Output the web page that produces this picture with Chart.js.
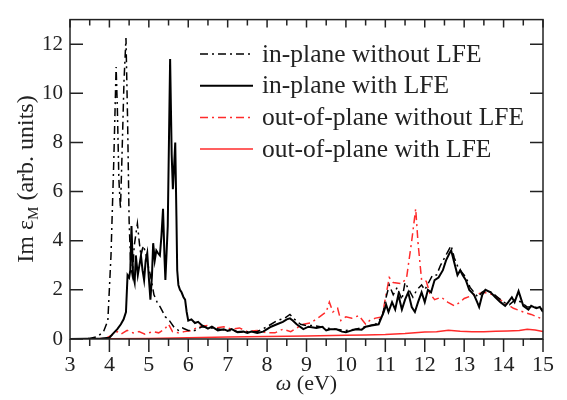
<!DOCTYPE html>
<html>
<head>
<meta charset="utf-8">
<script src="https://cdn.jsdelivr.net/npm/chart.js@4"></script>
<style>
  body { margin: 0; background: #fff; }
  #probe { font-family: "Liberation Serif", "Times New Roman", serif; position: absolute; left: -999px; }
</style>
</head>
<body>
<span id="probe">Im ε ω (eV) 0123456789 <i>ω</i></span>
<canvas id="myChart" width="567" height="400"></canvas>
<script>
// Energi (eV) og Im eps_M for hver kurve, lest av figuren
const inPlaneNoLfeE = [3.0, 3.5, 3.7, 3.85, 3.96, 4.04, 4.11, 4.17, 4.2, 4.24, 4.28, 4.32, 4.37, 4.42, 4.46, 4.5, 4.54, 4.58, 4.63, 4.71, 4.76, 4.8, 4.86, 4.92, 4.98, 5.04, 5.13, 5.21, 5.29, 5.42, 5.5, 5.63, 5.75, 5.85, 6.0, 6.17, 6.35, 6.58, 6.8, 7.0, 7.25, 7.5, 7.75, 8.0, 8.25, 8.45, 8.58, 8.7, 8.85, 9.0, 9.17, 9.35, 9.5, 9.75, 10.0, 10.25, 10.5, 10.75, 10.92, 11.02, 11.1, 11.2, 11.3, 11.42, 11.5, 11.6, 11.7, 11.8, 11.92, 12.0, 12.1, 12.2, 12.3, 12.4, 12.5, 12.6, 12.67, 12.75, 12.85, 12.95, 13.05, 13.15, 13.25, 13.35, 13.45, 13.55, 13.7, 13.85, 14.0, 14.15, 14.3, 14.45, 14.6, 14.8, 15.0];
const inPlaneNoLfe = [0, 0.02, 0.1, 0.3, 0.75, 3.4, 7.2, 11.07, 9.5, 6.5, 5.3, 7.5, 10.5, 12.25, 9.0, 4.8, 3.0, 2.6, 3.8, 4.7, 3.9, 3.4, 3.8, 3.5, 3.0, 2.6, 1.8, 1.5, 1.3, 0.9, 0.8, 0.5, 0.35, 0.45, 0.35, 0.35, 0.5, 0.45, 0.4, 0.35, 0.3, 0.3, 0.3, 0.5, 0.75, 0.85, 1.0, 0.8, 0.6, 0.55, 0.55, 0.5, 0.45, 0.4, 0.35, 0.4, 0.5, 0.6, 0.9, 1.7, 2.2, 1.8, 2.1, 1.6, 2.3, 2.0, 1.7, 2.0, 2.2, 2.0, 2.3, 2.6, 2.6, 3.0, 3.3, 3.6, 3.8, 3.3, 2.9, 2.7, 2.5, 2.1, 1.9, 1.7, 1.9, 2.0, 1.9, 1.7, 1.5, 1.4, 1.6, 1.5, 1.3, 1.3, 1.2];

const inPlaneLfeE = [3.0, 3.8, 4.0, 4.08, 4.2, 4.29, 4.36, 4.42, 4.46, 4.5, 4.53, 4.56, 4.6, 4.64, 4.67, 4.72, 4.76, 4.8, 4.84, 4.88, 4.92, 4.96, 5.0, 5.04, 5.08, 5.11, 5.15, 5.19, 5.23, 5.28, 5.32, 5.36, 5.4, 5.42, 5.45, 5.48, 5.51, 5.54, 5.58, 5.61, 5.64, 5.67, 5.7, 5.72, 5.75, 5.79, 5.83, 5.88, 5.92, 5.96, 6.0, 6.08, 6.17, 6.25, 6.35, 6.5, 6.6, 6.75, 6.9, 7.0, 7.1, 7.25, 7.4, 7.5, 7.6, 7.75, 7.9, 8.0, 8.1, 8.25, 8.4, 8.5, 8.58, 8.65, 8.75, 8.92, 9.05, 9.25, 9.4, 9.5, 9.6, 9.75, 9.9, 10.0, 10.15, 10.25, 10.4, 10.5, 10.65, 10.83, 10.96, 11.02, 11.08, 11.17, 11.25, 11.33, 11.42, 11.5, 11.58, 11.67, 11.75, 11.83, 11.92, 12.0, 12.08, 12.16, 12.25, 12.35, 12.46, 12.54, 12.63, 12.67, 12.75, 12.83, 12.9, 12.96, 13.04, 13.13, 13.25, 13.33, 13.38, 13.46, 13.54, 13.67, 13.79, 13.92, 14.04, 14.12, 14.21, 14.28, 14.38, 14.5, 14.63, 14.7, 14.83, 14.92, 15.0];
const inPlaneLfe = [0, 0.02, 0.05, 0.2, 0.4, 0.6, 0.8, 1.1, 2.6, 2.5, 2.8, 4.6, 2.6, 2.3, 3.4, 2.6, 3.0, 3.4, 2.8, 2.4, 3.2, 3.5, 2.5, 1.6, 2.6, 3.9, 3.2, 3.6, 3.5, 3.4, 4.2, 5.3, 3.2, 2.4, 3.5, 4.6, 8.0, 11.4, 7.5, 6.1, 7.0, 8.0, 5.0, 2.8, 2.2, 2.0, 1.9, 1.7, 1.6, 1.1, 0.75, 0.8, 0.65, 0.7, 0.55, 0.42, 0.5, 0.35, 0.4, 0.33, 0.4, 0.28, 0.3, 0.25, 0.3, 0.25, 0.3, 0.4, 0.5, 0.6, 0.7, 0.8, 0.84, 0.75, 0.6, 0.4, 0.5, 0.45, 0.5, 0.35, 0.4, 0.4, 0.3, 0.28, 0.35, 0.4, 0.38, 0.5, 0.55, 0.6, 1.1, 1.4, 1.1, 1.5, 1.2, 1.8, 1.2, 1.6, 1.9, 1.3, 1.1, 1.5, 1.9, 1.5, 2.0, 1.9, 2.4, 2.5, 2.8, 3.2, 3.5, 3.6, 3.1, 2.6, 2.8, 2.6, 2.4, 2.0, 1.8, 1.5, 1.3, 1.8, 2.0, 1.9, 1.7, 1.5, 1.35, 1.5, 1.7, 1.5, 1.95, 1.35, 1.2, 1.35, 1.25, 1.3, 1.1];

const outPlaneNoLfeE = [3.0, 3.9, 4.05, 4.2, 4.3, 4.45, 4.6, 4.75, 4.9, 5.1, 5.25, 5.4, 5.5, 5.6, 5.75, 5.9, 6.1, 6.25, 6.5, 6.7, 6.9, 7.1, 7.3, 7.5, 7.75, 8.0, 8.2, 8.4, 8.6, 8.75, 8.92, 9.1, 9.33, 9.5, 9.58, 9.67, 9.79, 9.87, 10.0, 10.15, 10.33, 10.5, 10.6, 10.75, 10.92, 11.0, 11.1, 11.2, 11.42, 11.54, 11.67, 11.77, 11.83, 11.92, 12.04, 12.13, 12.25, 12.42, 12.58, 12.75, 12.9, 13.0, 13.25, 13.5, 13.75, 14.0, 14.25, 14.5, 14.7, 14.85, 15.0];
const outPlaneNoLfe = [0, 0.02, 0.15, 0.3, 0.2, 0.35, 0.25, 0.3, 0.2, 0.3, 0.25, 0.4, 0.6, 0.3, 0.25, 0.3, 0.35, 0.5, 0.55, 0.45, 0.5, 0.4, 0.45, 0.3, 0.35, 0.25, 0.25, 0.4, 0.3, 0.45, 0.6, 0.65, 0.9, 1.1, 1.5, 1.1, 1.25, 0.75, 0.9, 0.85, 0.95, 0.6, 0.75, 0.85, 0.9, 1.65, 2.5, 2.3, 2.25, 2.5, 4.0, 5.3, 3.9, 2.4, 2.35, 1.85, 1.6, 1.7, 1.5, 1.35, 1.5, 1.65, 1.8, 1.9, 1.8, 1.5, 1.25, 1.1, 1.0, 0.9, 0.8];

const outPlaneLfeE = [3.0, 5.0, 6.0, 7.0, 8.0, 9.0, 10.0, 10.5, 11.0, 11.5, 12.0, 12.3, 12.6, 12.9, 13.2, 13.5, 13.8, 14.1, 14.4, 14.6, 14.8, 15.0];
const outPlaneLfe = [0, 0.02, 0.05, 0.08, 0.1, 0.12, 0.15, 0.16, 0.18, 0.22, 0.28, 0.3, 0.36, 0.32, 0.3, 0.3, 0.32, 0.33, 0.35, 0.4, 0.37, 0.3];

const seriesLabels = ["in-plane without LFE", "in-plane with LFE", "out-of-plane without LFE", "out-of-plane with LFE"];

const black = "#000000";
const red = "#ff2b2b";
const dashDot = [8, 4, 2, 4];
const serif = "'Liberation Serif', 'Times New Roman', 'DejaVu Serif', serif";

function toPoints(xs, ys) {
  return xs.map((x, i) => ({ x: x, y: ys[i] }));
}

// Tegner ramme, innoverpekende streker, legende og aksetitler
const framePlugin = {
  id: "frame",
  afterDatasetsDraw(chart) {
    const ctx = chart.ctx;
    const a = chart.chartArea;
    const xs = chart.scales.x;
    const ys = chart.scales.y;
    ctx.save();
    ctx.strokeStyle = "#222";
    ctx.lineWidth = 1.5;
    ctx.strokeRect(a.left, a.top, a.right - a.left, a.bottom - a.top);

    ctx.beginPath();
    xs.ticks.forEach(t => {
      const px = xs.getPixelForValue(t.value);
      const major = Number.isInteger(t.value);
      // nederst peker strekene utover
      ctx.moveTo(px, a.bottom);
      ctx.lineTo(px, a.bottom + (major ? 13 : 7));
      // øverst peker de innover
      ctx.moveTo(px, a.top);
      ctx.lineTo(px, a.top + (major ? 8 : 6));
    });
    ys.ticks.forEach(t => {
      const py = ys.getPixelForValue(t.value);
      const len = t.value % 2 === 0 ? 13 : 7;
      ctx.moveTo(a.left, py);
      ctx.lineTo(a.left + len, py);
      ctx.moveTo(a.right, py);
      ctx.lineTo(a.right - len, py);
    });
    ctx.stroke();

    // Legende inne i plottet
    ctx.font = "25.5px " + serif;
    ctx.textBaseline = "middle";
    ctx.textAlign = "left";
    chart.data.datasets.forEach((ds, i) => {
      const y = 54 + i * 31.7;
      ctx.beginPath();
      ctx.strokeStyle = ds.borderColor;
      ctx.lineWidth = ds.borderWidth;
      ctx.setLineDash(ds.borderDash || []);
      ctx.moveTo(200, y);
      ctx.lineTo(253, y);
      ctx.stroke();
      ctx.setLineDash([]);
      ctx.fillStyle = "#222";
      ctx.fillText(ds.label, 262, y + 1);
    });

    // x-aksetittel: ω (eV)
    ctx.textBaseline = "alphabetic";
    const cx = (a.left + a.right) / 2;
    ctx.font = "italic 22px " + serif;
    const wOmega = ctx.measureText("ω").width;
    ctx.font = "22px " + serif;
    const wRest = ctx.measureText(" (eV)").width;
    let x0 = cx - (wOmega + wRest) / 2;
    ctx.font = "italic 22px " + serif;
    ctx.fillText("ω", x0, 390);
    ctx.font = "22px " + serif;
    ctx.fillText(" (eV)", x0 + wOmega, 390);

    // y-aksetittel: Im ε_M (arb. units)
    ctx.translate(33, 179);
    ctx.rotate(-Math.PI / 2);
    ctx.font = "24px " + serif;
    const p1 = "Im ε";
    const p3 = " (arb. units)";
    const w1 = ctx.measureText(p1).width;
    const w3 = ctx.measureText(p3).width;
    ctx.font = "15px " + serif;
    const w2 = ctx.measureText("M").width;
    let s = -(w1 + w2 + w3) / 2;
    ctx.font = "24px " + serif;
    ctx.fillText(p1, s, 0);
    ctx.font = "15px " + serif;
    ctx.fillText("M", s + w1, 5);
    ctx.font = "24px " + serif;
    ctx.fillText(p3, s + w1 + w2, 0);
    ctx.restore();
  }
};

const ctx = document.getElementById("myChart").getContext("2d");

const chart = new Chart(ctx, {
  type: "line",
  data: {
    datasets: [
      { label: seriesLabels[0], data: toPoints(inPlaneNoLfeE, inPlaneNoLfe), borderColor: black, borderWidth: 1.5, borderDash: dashDot },
      { label: seriesLabels[1], data: toPoints(inPlaneLfeE, inPlaneLfe), borderColor: black, borderWidth: 2 },
      { label: seriesLabels[2], data: toPoints(outPlaneNoLfeE, outPlaneNoLfe), borderColor: red, borderWidth: 1.5, borderDash: dashDot },
      { label: seriesLabels[3], data: toPoints(outPlaneLfeE, outPlaneLfe), borderColor: red, borderWidth: 1.5 }
    ]
  },
  options: {
    responsive: false,
    animation: false,
    layout: { padding: { top: 7, right: 18, left: 0, bottom: 0 } },
    elements: { point: { radius: 0 }, line: { tension: 0, fill: false } },
    plugins: { legend: { display: false }, tooltip: { enabled: false } },
    scales: {
      x: {
        type: "linear",
        min: 3,
        max: 15,
        grid: { display: false, drawTicks: false },
        border: { display: false },
        ticks: {
          stepSize: 0.5,
          autoSkip: false,
          maxRotation: 0,
          padding: 13,
          color: "#222",
          font: { family: serif, size: 22 },
          callback: v => Number.isInteger(v) ? v : ""
        },
        afterFit: s => { s.height = 61; }
      },
      y: {
        min: 0,
        max: 13,
        grid: { display: false, drawTicks: false },
        border: { display: false },
        ticks: {
          stepSize: 1,
          padding: 7,
          color: "#222",
          font: { family: serif, size: 21 },
          callback: v => (v % 2 === 0 && v <= 12) ? v : ""
        },
        afterFit: s => { s.width = 70; }
      }
    }
  },
  plugins: [framePlugin]
});
</script>
</body>
</html>
